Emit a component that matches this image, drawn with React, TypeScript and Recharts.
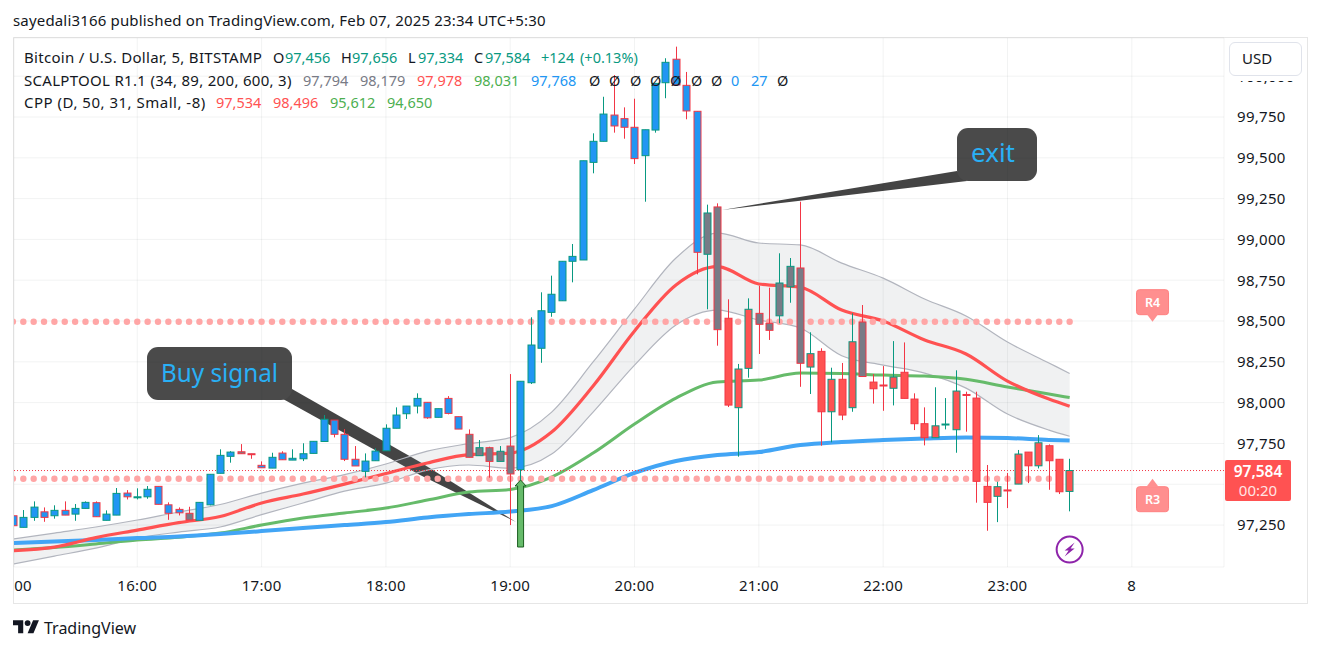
import React from 'react'
import {
  Area,
  Bar,
  CartesianGrid,
  ComposedChart,
  Line,
  ReferenceDot,
  ReferenceLine,
  XAxis,
  YAxis,
} from 'recharts'

// 5 minute BTCUSD candles from 15:00 to 23:30
const opens = [
  97307, 97236, 97297, 97331, 97307, 97340, 97317, 97352, 97387, 97279,
  97311, 97446, 97420, 97423, 97487, 97374, 97346, 97322, 97279, 97374,
  97567, 97671, 97699, 97687, 97616, 97599, 97691, 97648, 97656, 97689,
  97762, 97893, 97806, 97653, 97579, 97644, 97705, 97843, 97932, 97979,
  98002, 97910, 98026, 97914, 97806, 97675, 97724, 97640, 97734, 97589,
  98122, 98333, 98553, 98624, 98866, 98874, 99472, 99601, 99762, 99740,
  99687, 99513, 99670, 99960, 100104, 99944, 99785, 98909, 99199, 98517,
  97969, 98210, 98547, 98486, 98532, 98710, 98825, 98218, 98314, 97944,
  98143, 97969, 98494, 98126, 98108, 98088, 98186, 98022, 97871, 97785,
  97866, 97834, 98050, 98028, 97487, 97426, 97465, 97501, 97697, 97613,
  97736, 97653, 97456,
]
const highs = [
  97307, 97342, 97395, 97358, 97371, 97395, 97379, 97395, 97395, 97340,
  97477, 97464, 97475, 97489, 97487, 97389, 97358, 97362, 97389, 97561,
  97714, 97703, 97746, 97687, 97640, 97693, 97702, 97714, 97751, 97763,
  97924, 97893, 97838, 97734, 97689, 97720, 97867, 97971, 97979, 98057,
  98002, 97963, 98040, 97914, 97836, 97771, 97730, 97734, 98175, 98131,
  98523, 98676, 98778, 98866, 98972, 99482, 99650, 99874, 100007, 99809,
  99862, 99672, 99956, 100110, 100181, 100026, 99785, 99213, 99221, 98633,
  98237, 98639, 98716, 98704, 98915, 98886, 99231, 98431, 98333, 98214,
  98243, 98547, 98598, 98175, 98224, 98377, 98369, 98057, 97971, 98094,
  98028, 98198, 98067, 98067, 97618, 97515, 97569, 97710, 97697, 97801,
  97744, 97653, 97656,
]
const lows = [
  97246, 97236, 97276, 97270, 97289, 97311, 97276, 97352, 97301, 97279,
  97311, 97407, 97407, 97411, 97377, 97282, 97309, 97281, 97279, 97371,
  97567, 97632, 97687, 97656, 97601, 97599, 97649, 97648, 97642, 97689,
  97762, 97787, 97642, 97612, 97542, 97644, 97705, 97843, 97900, 97934,
  97901, 97910, 97928, 97838, 97665, 97675, 97540, 97640, 97250, 97526,
  98114, 98244, 98526, 98624, 98737, 98874, 99405, 99601, 99654, 99617,
  99462, 99231, 99654, 99865, 99946, 99736, 98786, 98572, 98349, 97973,
  97669, 98153, 98298, 98384, 98486, 98612, 98097, 98053, 97736, 97757,
  97893, 97944, 98160, 97994, 97950, 97983, 98026, 97832, 97738, 97785,
  97836, 97693, 97822, 97387, 97215, 97268, 97354, 97501, 97507, 97597,
  97466, 97440, 97334,
]
const closes = [
  97246, 97297, 97360, 97297, 97340, 97311, 97352, 97389, 97301, 97317,
  97444, 97423, 97423, 97469, 97377, 97322, 97325, 97281, 97389, 97561,
  97677, 97697, 97687, 97685, 97601, 97665, 97650, 97659, 97687, 97763,
  97898, 97806, 97653, 97612, 97642, 97703, 97843, 97924, 97979, 98026,
  97907, 97963, 97934, 97838, 97665, 97724, 97640, 97702, 97563, 98131,
  98353, 98563, 98664, 98866, 98896, 99482, 99601, 99768, 99695, 99687,
  99495, 99672, 99956, 100085, 99946, 99787, 98921, 99162, 98447, 97985,
  98206, 98572, 98480, 98443, 98733, 98835, 98241, 98300, 97944, 98143,
  97924, 98373, 98160, 98085, 98106, 98157, 98026, 97871, 97785, 97858,
  97869, 98071, 98046, 97518, 97389, 97485, 97461, 97685, 97613, 97754,
  97644, 97454, 97584,
]
// b = above the band, f = inside it, r = below it (one letter per candle)
const trend =
  'bbbbbbbbbbbbbbbbbfbbbbfbbbbbbbbbbbbbbbbbbbbbfffffbbbbbbbbbbbbbbbbbbffrrrfffffrrrrrfrrrrrrrrrrrrrrrrrrrr'

// indicator lines, sampled every 4 candles (last step is 2)
const knots = [
  0, 4, 8, 12, 16, 20, 24, 28, 32, 36, 40, 44, 48, 52, 56, 60, 64, 68, 72, 76,
  80, 84, 88, 92, 96, 100, 102,
]
const bandUpper = [
  97164, 97201, 97238, 97281, 97330, 97376, 97446, 97507, 97559, 97624, 97703,
  97749, 97786, 97942, 98249, 98574, 98886, 99039, 98978, 98966, 98855, 98763,
  98635, 98531, 98371, 98243, 98179,
]
const bandLower = [
  97011, 97060, 97109, 97170, 97207, 97238, 97314, 97385, 97458, 97507, 97587,
  97618, 97599, 97685, 97942, 98230, 98476, 98567, 98506, 98457, 98287, 98230,
  98181, 98089, 97930, 97832, 97794,
]
const emaRed = [
  97093, 97115, 97173, 97219, 97265, 97302, 97385, 97440, 97501, 97566, 97630,
  97682, 97691, 97820, 98102, 98439, 98721, 98833, 98727, 98707, 98567, 98500,
  98384, 98298, 98132, 98022, 97978,
]
const emaGreen = [
  97097, 97112, 97134, 97158, 97176, 97201, 97250, 97293, 97324, 97354, 97403,
  97452, 97468, 97544, 97691, 97869, 98028, 98126, 98138, 98181, 98178, 98169,
  98163, 98143, 98096, 98053, 98031,
]
const emaBlue = [
  97140, 97149, 97158, 97170, 97180, 97195, 97213, 97232, 97250, 97268, 97296,
  97317, 97333, 97366, 97464, 97569, 97642, 97679, 97697, 97740, 97759, 97771,
  97780, 97786, 97783, 97771, 97768,
]

const pivotR4 = 98496
const pivotR3 = 97534
const lastPrice = 97584
const firstMinute = 900

const priceTicks = [
  97250, 97500, 97750, 98000, 98250, 98500, 98750, 99000, 99250, 99500, 99750,
  100000,
]
const timeTicks = [900.5, 960, 1020, 1080, 1140, 1200, 1260, 1320, 1380, 1440]
const timeLabels = ['00', '16:00', '17:00', '18:00', '19:00', '20:00', '21:00', '22:00', '23:00', '8']

const FONT = '"Noto Sans", sans-serif'
const TEAL = '#089981'
const RED = '#f23645'
const BLUE = '#2196f3'
const GREEN = '#4caf50'
const SOFT_RED = '#ff5252'
const GREY = '#787b86'
const TEXT = '#131722'
const TREND_FILL: Record<string, string> = { b: BLUE, f: GREY, r: SOFT_RED }

const rows = opens.map((open, i) => ({
  t: firstMinute + i * 5,
  open,
  high: highs[i],
  low: lows[i],
  close: closes[i],
  trend: trend[i],
  r4: pivotR4,
  r3: pivotR3,
}))

const lineRows = knots.map((k, i) => ({
  t: firstMinute + k * 5,
  upper: bandUpper[i],
  lower: bandLower[i],
  red: emaRed[i],
  green: emaGreen[i],
  blue: emaBlue[i],
}))

function Candle(props: any) {
  const { x, y, width, height, payload } = props
  const { open, high, low, close } = payload
  const k = height / (high - low)
  const cx = Math.round(x + width / 2) + 0.5
  const color = close >= open ? TEAL : RED
  const top = y + (high - Math.max(open, close)) * k
  const bodyH = Math.max(Math.abs(open - close) * k, 1)
  return (
    <g>
      <line x1={cx} x2={cx} y1={y} y2={y + height} stroke={color} strokeWidth={1} />
      <rect
        x={cx - 3.5}
        y={top}
        width={7}
        height={bodyH}
        fill={TREND_FILL[payload.trend]}
        stroke={color}
        strokeWidth={1}
      />
    </g>
  )
}

function TimeTick(props: any) {
  const { x, y, index } = props
  const label = timeLabels[index]
  const clipped = label === '00'
  return (
    <text
      x={clipped ? x + 18 : x}
      y={y + 16}
      textAnchor={clipped ? 'end' : 'middle'}
      fontFamily={FONT}
      fontSize={15}
      letterSpacing={0.3}
      fill={TEXT}
    >
      {label}
    </text>
  )
}

function PivotTag(props: any) {
  const { cx, cy, label, down } = props
  const top = down ? cy - 32 : cy + 8
  const tipBase = down ? cy - 8 : cy + 8
  return (
    <g>
      <rect x={cx - 16} y={top} width={32} height={25} rx={3} fill="#ff8f8f" stroke="#ff8080" />
      <path d={`M${cx - 6} ${tipBase}L${cx} ${cy}L${cx + 6} ${tipBase}Z`} fill="#ff8f8f" />
      <text x={cx} y={top + 17} textAnchor="middle" fontFamily={FONT} fontSize={12.5} fontWeight={600} fill="#fff">
        {label}
      </text>
    </g>
  )
}

function BuyArrow(props: any) {
  const { cx, cy } = props
  const d = `M${cx} ${cy}L${cx + 5.5} ${cy + 6}L${cx + 3} ${cy + 6}L${cx + 3} ${cy + 67}L${cx - 3} ${cy + 67}L${cx - 3} ${cy + 6}L${cx - 5.5} ${cy + 6}Z`
  return <path d={d} fill="#66bb6a" stroke="#1b5e20" strokeWidth={1} />
}

function BoltBadge(props: any) {
  const { cx, cy } = props
  return (
    <g>
      <circle cx={cx} cy={cy} r={13} fill="#fff" stroke="#8e24aa" strokeWidth={2} />
      <path
        d={`M${cx + 5} ${cy - 7}L${cx - 5} ${cy + 1}L${cx - 1} ${cy + 1}L${cx - 5} ${cy + 7}L${cx + 5} ${cy - 1}L${cx + 1} ${cy - 1}Z`}
        fill="#8e24aa"
      />
    </g>
  )
}

function Txt({ x, y, c, children, size = 14.5, spacing = 0 }: any) {
  return (
    <span
      style={{
        position: 'absolute',
        left: x,
        top: y,
        color: c || TEXT,
        fontSize: size,
        letterSpacing: spacing,
        lineHeight: '20px',
        whiteSpace: 'nowrap',
      }}
    >
      {children}
    </span>
  )
}

const legendRows: [number, number, string, string][] = [
  [273, 47, TEXT, 'O'],
  [285, 47, TEAL, '97,456'],
  [341, 47, TEXT, 'H'],
  [352, 47, TEAL, '97,656'],
  [408, 47, TEXT, 'L'],
  [418, 47, TEAL, '97,334'],
  [474, 47, TEXT, 'C'],
  [485, 47, TEAL, '97,584'],
  [541, 47, TEAL, '+124'],
  [580, 47, TEAL, '(+0.13%)'],
  [303, 70, GREY, '97,794'],
  [360, 70, GREY, '98,179'],
  [417, 70, SOFT_RED, '97,978'],
  [474, 70, GREEN, '98,031'],
  [531, 70, BLUE, '97,768'],
  [589, 70, TEXT, 'Ø'],
  [609, 70, TEXT, 'Ø'],
  [630, 70, TEXT, 'Ø'],
  [650, 70, TEXT, 'Ø'],
  [670, 70, TEXT, 'Ø'],
  [691, 70, TEXT, 'Ø'],
  [711, 70, TEXT, 'Ø'],
  [731, 70, BLUE, '0'],
  [751, 70, BLUE, '27'],
  [777, 70, TEXT, 'Ø'],
  [216, 92, SOFT_RED, '97,534'],
  [273, 92, SOFT_RED, '98,496'],
  [330, 92, GREEN, '95,612'],
  [387, 92, GREEN, '94,650'],
]

export default function App() {
  return (
    <div style={{ position: 'absolute', left: 0, top: 0, width: 1320, height: 651, background: '#fff', fontFamily: FONT, overflow: 'hidden' }}>
      {/* frame */}
      <div style={{ position: 'absolute', left: 13, top: 37, width: 1293, height: 565, border: '1px solid #e6e6e6' }} />

      {/* callouts sit under the candles */}
      <svg width={1320} height={651} style={{ position: 'absolute', left: 0, top: 0 }}>
        <path d="M292 389L420 462L516 522L420 475L283 399Z" fill="#444" />
        <rect x={147} y={347} width={145} height={53} rx={11} fill="#4a4a4a" />
        <text x={161} y={382} fontFamily={FONT} fontSize={26} textLength={117} lengthAdjust="spacingAndGlyphs" fill="#29b0f6">Buy signal</text>
        <path d="M957 171L722 210L967 181Z" fill="#444" />
        <rect x={957} y={128} width={80} height={53} rx={11} fill="#4a4a4a" />
        <text x={971} y={162} fontFamily={FONT} fontSize={26} fill="#29b0f6">exit</text>
      </svg>

      <div style={{ position: 'absolute', left: 0, top: 0 }}>
        <ComposedChart
          width={1320}
          height={651}
          data={rows}
          margin={{ top: 38, right: 0, bottom: 0, left: 14 }}
        >
          <CartesianGrid stroke="#2a2e39" strokeOpacity={0.06} />
          <XAxis
            dataKey="t"
            type="number"
            domain={[900.5, 1484.5]}
            allowDataOverflow
            ticks={timeTicks}
            interval={0}
            height={84}
            axisLine={false}
            tickLine={false}
            tick={<TimeTick />}
          />
          <YAxis
            orientation="right"
            type="number"
            domain={[96993, 100234]}
            allowDataOverflow
            ticks={priceTicks}
            interval={0}
            width={96}
            axisLine={false}
            tickLine={false}
            tickMargin={7}
            tick={{ fontSize: 15, fill: TEXT, fontFamily: FONT, letterSpacing: 0.3 }}
            // 97,500 sits behind the last price tag in the original
            tickFormatter={(v: number) => (v === 97500 ? '' : v.toLocaleString('en-US'))}
          />
          <Area
            data={lineRows}
            dataKey={(d: any) => [d.lower, d.upper]}
            type="monotone"
            stroke="none"
            fill={GREY}
            fillOpacity={0.11}
            isAnimationActive={false}
          />
          <Line data={lineRows} dataKey="upper" type="monotone" stroke="#b2b5be" strokeWidth={1.2} dot={false} isAnimationActive={false} />
          <Line data={lineRows} dataKey="lower" type="monotone" stroke="#b2b5be" strokeWidth={1.2} dot={false} isAnimationActive={false} />
          <Line dataKey="r4" stroke="none" dot={{ r: 3.2, fill: '#ffa6a6', stroke: 'none' }} isAnimationActive={false} />
          <Line dataKey="r3" stroke="none" dot={{ r: 3.2, fill: '#ffa6a6', stroke: 'none' }} isAnimationActive={false} />
          <Line data={lineRows} dataKey="green" type="monotone" stroke="#66bb6a" strokeWidth={3} dot={false} isAnimationActive={false} />
          <Line data={lineRows} dataKey="blue" type="monotone" stroke="#42a5f5" strokeWidth={4} dot={false} isAnimationActive={false} />
          <Line data={lineRows} dataKey="red" type="monotone" stroke="#ff5252" strokeWidth={3.2} dot={false} isAnimationActive={false} />
          <ReferenceLine y={lastPrice} stroke={RED} strokeDasharray="1 2" />
          <Bar
            dataKey={(d: any) => [d.low, d.high]}
            barSize={8}
            shape={<Candle />}
            isAnimationActive={false}
            {...({ zIndex: 700 } as any)}
          />
          <ReferenceDot x={firstMinute + 49 * 5} y={lows[49]} shape={<BuyArrow />} {...({ zIndex: 800 } as any)} />
          <ReferenceDot x={1450} y={pivotR4} shape={<PivotTag label="R4" down />} {...({ zIndex: 800 } as any)} />
          <ReferenceDot x={1450} y={pivotR3} shape={<PivotTag label="R3" />} {...({ zIndex: 800 } as any)} />
          <ReferenceDot x={firstMinute + 102 * 5} y={97100} shape={<BoltBadge />} {...({ zIndex: 800 } as any)} />
        </ComposedChart>
      </div>

      {/* title and legend */}
      <Txt x={13} y={10} size={15} spacing={0.17}>sayedali3166 published on TradingView.com, Feb 07, 2025 23:34 UTC+5:30</Txt>
      <Txt x={24} y={47} size={15} spacing={0.3}>Bitcoin / U.S. Dollar, 5, BITSTAMP</Txt>
      <Txt x={24} y={70} size={15} spacing={0.3}>SCALPTOOL R1.1 (34, 89, 200, 600, 3)</Txt>
      <Txt x={24} y={92} size={15} spacing={0.5}>CPP (D, 50, 31, Small, -8)</Txt>
      {legendRows.map(([x, y, c, s], i) => (
        <Txt key={i} x={x} y={y} c={c}>{s}</Txt>
      ))}

      {/* currency button, masks the 100,000 tick */}
      <div style={{ position: 'absolute', left: 1226, top: 40, width: 80, height: 41, background: '#fff' }} />
      <div style={{ position: 'absolute', left: 1229, top: 42, width: 71, height: 32, border: '1px solid #e0e3eb', borderRadius: 6, background: '#fff' }} />
      <Txt x={1242} y={48} size={15}>USD</Txt>

      {/* last price tag */}
      <div style={{ position: 'absolute', left: 1225, top: 460, width: 66, height: 41, background: '#ff5252', borderRadius: 2, color: '#fff', textAlign: 'center' }}>
        <div style={{ fontSize: 15.5, fontWeight: 600, lineHeight: '19px', marginTop: 2 }}>97,584</div>
        <div style={{ fontSize: 15, lineHeight: '18px', opacity: 0.85 }}>00:20</div>
      </div>

      {/* TradingView mark */}
      <svg width={26.3} height={20.5} viewBox="0 0 36 28" style={{ position: 'absolute', left: 13, top: 615 }}>
        <path d="M14 25H7V14H0V7h14v18ZM28 25h-8l7.5-18h8L28 25Z" fill="#131722" />
        <circle cx={20} cy={11} r={4} fill="#131722" />
      </svg>
      <Txt x={44} y={618} size={16}>TradingView</Txt>
    </div>
  )
}
